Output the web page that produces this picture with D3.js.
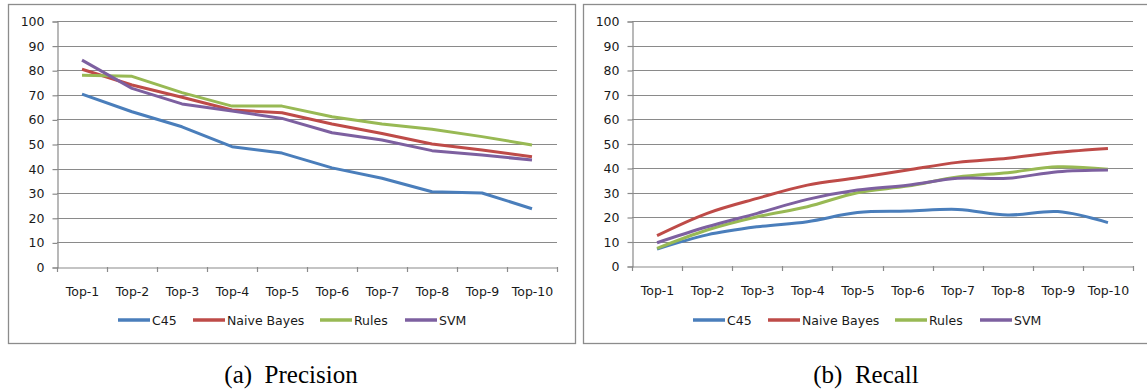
<!DOCTYPE html>
<html><head><meta charset="utf-8">
<script src="https://cdn.jsdelivr.net/npm/d3@7/dist/d3.min.js"></script>
<style>body{margin:0;background:#fff}svg{display:block}</style>
</head><body>
<svg id="c" width="1147" height="390"></svg>
<script>
const categories = ["Top-1","Top-2","Top-3","Top-4","Top-5","Top-6","Top-7","Top-8","Top-9","Top-10"];
const seriesNames = ["C45","Naive Bayes","Rules","SVM"];
const yTicks = [0,10,20,30,40,50,60,70,80,90,100];
// Precision
const precC45   = [70.3,63.1,57.0,48.9,46.3,40.3,36.1,30.6,30.1,23.7];
const precNB    = [80.4,74.0,69.0,63.8,62.7,58.1,54.3,50.0,47.6,44.8];
const precRules = [77.9,77.5,70.9,65.4,65.4,61.1,58.1,56.0,53.0,49.6];
const precSVM   = [84.1,72.6,66.3,63.4,60.4,54.6,51.6,47.3,45.5,43.5];
// Recall
const recC45   = [6.9,12.7,16.0,18.1,21.8,22.4,23.1,20.8,22.2,17.7];
const recNB    = [12.4,21.5,27.6,33.0,36.0,39.2,42.3,44.0,46.4,48.0];
const recRules = [7.2,14.7,20.1,24.2,29.9,32.6,36.3,38.1,40.5,39.5];
const recSVM   = [9.5,16.0,21.5,27.2,31.0,33.0,35.8,35.8,38.5,39.2];
const captions = ["(a)\u00A0\u00A0Precision","(b)\u00A0\u00A0Recall"];

const colors = ["#4A7EBB","#BE4B48","#98B954","#7D60A0"];
const svg = d3.select("#c");
const font = "DejaVu Sans, Verdana, sans-serif";

function panel(cfg){
  const g = svg.append("g");
  g.append("rect").attr("x",cfg.bx+0.5).attr("y",4.5).attr("width",cfg.bw).attr("height",339)
    .attr("fill","#fff").attr("stroke","#8c8c8c").attr("stroke-width",1.3);
  const x = d3.scaleBand().domain(categories).range([cfg.x0,cfg.x1]);
  const y = d3.scaleLinear().domain([0,100]).range([cfg.y0,cfg.y100]);
  g.append("g").selectAll("line").data(yTicks.filter(d=>d>0)).join("line")
    .attr("x1",cfg.x0).attr("x2",cfg.x1).attr("y1",d=>Math.round(y(d))+0.5).attr("y2",d=>Math.round(y(d))+0.5)
    .attr("stroke","#8a8a8a").attr("stroke-width",1.2);
  const ya = g.append("g").attr("transform",`translate(${cfg.x0+0.5},0.5)`)
    .call(d3.axisLeft(y).tickValues(yTicks).tickSize(5).tickPadding(8).tickFormat(d3.format("d")));
  ya.select(".domain").attr("stroke","#8a8a8a").attr("stroke-width",1.2);
  ya.selectAll(".tick line").attr("stroke","#8a8a8a").attr("stroke-width",1.2);
  ya.selectAll("text").attr("font-family",font).attr("font-size","12.5px").attr("fill","#1a1a1a");
  const xa = g.append("g").attr("transform",`translate(0.5,${cfg.y0+0.5})`)
    .call(d3.axisBottom(x).tickSize(0).tickPadding(20));
  xa.select(".domain").attr("stroke","#8a8a8a").attr("stroke-width",1.2);
  xa.selectAll("text").attr("font-family",font).attr("font-size","12.5px").attr("fill","#1a1a1a");
  const bounds = categories.map(c=>x(c)).concat([cfg.x1]);
  g.append("g").selectAll("line").data(bounds).join("line")
    .attr("x1",d=>Math.round(d)+0.5).attr("x2",d=>Math.round(d)+0.5)
    .attr("y1",cfg.y0).attr("y2",cfg.y0+5).attr("stroke","#8a8a8a").attr("stroke-width",1.2);
  const line = d3.line().x((d,i)=>x(categories[i])+x.bandwidth()/2).y(d=>y(d)).curve(cfg.curve);
  cfg.data.forEach((s,i)=>{
    g.append("path").attr("d",line(s)).attr("fill","none").attr("stroke",colors[i])
      .attr("stroke-width",3).attr("stroke-linejoin","round").attr("stroke-linecap","butt");
  });
  const lg = g.append("g");
  let cx = cfg.legX;
  const gaps = [0,75,127,85];
  seriesNames.forEach((n,i)=>{
    cx += gaps[i];
    lg.append("line").attr("x1",cx).attr("x2",cx+32).attr("y1",320).attr("y2",320)
      .attr("stroke",colors[i]).attr("stroke-width",3.5);
    lg.append("text").attr("x",cx+34).attr("y",324.5).text(n)
      .attr("font-family",font).attr("font-size","12.5px").attr("fill","#1a1a1a");
  });
  svg.append("text").attr("x",cfg.capX).attr("y",383).text(cfg.caption)
    .attr("text-anchor","middle")
    .attr("font-family","'Liberation Serif', serif").attr("font-size","25px")
    .attr("fill","#000");
}

panel({bx:8,bw:567,x0:57,x1:557,y0:267,y100:21,data:[precC45,precNB,precRules,precSVM],
  curve:d3.curveLinear,legX:118,caption:captions[0],capX:291});
panel({bx:583,bw:580,x0:632,x1:1133,y0:266,y100:21,data:[recC45,recNB,recRules,recSVM],
  curve:d3.curveCatmullRom.alpha(0.5),legX:693,caption:captions[1],capX:866});
</script>
</body></html>
